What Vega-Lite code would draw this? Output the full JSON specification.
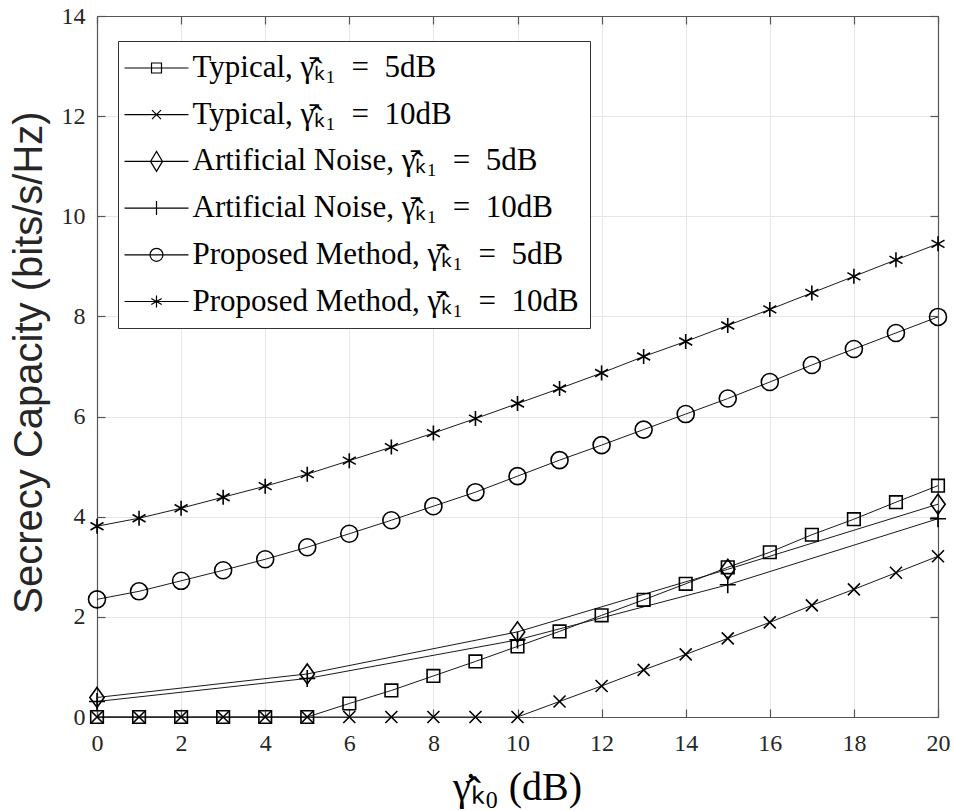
{
  "$schema": "https://vega.github.io/schema/vega-lite/v6.json",
  "width": 841,
  "height": 701,
  "autosize": "none",
  "padding": {"left": 97, "top": 16, "right": 16, "bottom": 94},
  "background": "white",
  "config": {"view": {"stroke": null}},
  "data": {"values": [
    {"x":0,"y":0,"s":"T5"},{"x":1,"y":0,"s":"T5"},{"x":2,"y":0,"s":"T5"},{"x":3,"y":0,"s":"T5"},{"x":4,"y":0,"s":"T5"},{"x":5,"y":0,"s":"T5"},{"x":6,"y":0.27,"s":"T5"},{"x":7,"y":0.53,"s":"T5"},{"x":8,"y":0.82,"s":"T5"},{"x":9,"y":1.11,"s":"T5"},{"x":10,"y":1.41,"s":"T5"},{"x":11,"y":1.71,"s":"T5"},{"x":12,"y":2.03,"s":"T5"},{"x":13,"y":2.34,"s":"T5"},{"x":14,"y":2.66,"s":"T5"},{"x":15,"y":2.99,"s":"T5"},{"x":16,"y":3.29,"s":"T5"},{"x":17,"y":3.64,"s":"T5"},{"x":18,"y":3.95,"s":"T5"},{"x":19,"y":4.29,"s":"T5"},{"x":20,"y":4.62,"s":"T5"},
    {"x":0,"y":0,"s":"T10"},{"x":1,"y":0,"s":"T10"},{"x":2,"y":0,"s":"T10"},{"x":3,"y":0,"s":"T10"},{"x":4,"y":0,"s":"T10"},{"x":5,"y":0,"s":"T10"},{"x":6,"y":0,"s":"T10"},{"x":7,"y":0,"s":"T10"},{"x":8,"y":0,"s":"T10"},{"x":9,"y":0,"s":"T10"},{"x":10,"y":0,"s":"T10"},{"x":11,"y":0.31,"s":"T10"},{"x":12,"y":0.62,"s":"T10"},{"x":13,"y":0.94,"s":"T10"},{"x":14,"y":1.25,"s":"T10"},{"x":15,"y":1.57,"s":"T10"},{"x":16,"y":1.89,"s":"T10"},{"x":17,"y":2.23,"s":"T10"},{"x":18,"y":2.55,"s":"T10"},{"x":19,"y":2.88,"s":"T10"},{"x":20,"y":3.21,"s":"T10"},
    {"x":0,"y":0.39,"s":"A5"},{"x":5,"y":0.86,"s":"A5"},{"x":10,"y":1.7,"s":"A5"},{"x":15,"y":2.95,"s":"A5"},{"x":20,"y":4.25,"s":"A5"},
    {"x":0,"y":0.31,"s":"A10"},{"x":5,"y":0.77,"s":"A10"},{"x":10,"y":1.54,"s":"A10"},{"x":15,"y":2.64,"s":"A10"},{"x":20,"y":3.96,"s":"A10"},
    {"x":0,"y":2.35,"s":"P5"},{"x":1,"y":2.51,"s":"P5"},{"x":2,"y":2.72,"s":"P5"},{"x":3,"y":2.93,"s":"P5"},{"x":4,"y":3.15,"s":"P5"},{"x":5,"y":3.39,"s":"P5"},{"x":6,"y":3.66,"s":"P5"},{"x":7,"y":3.93,"s":"P5"},{"x":8,"y":4.21,"s":"P5"},{"x":9,"y":4.49,"s":"P5"},{"x":10,"y":4.81,"s":"P5"},{"x":11,"y":5.13,"s":"P5"},{"x":12,"y":5.43,"s":"P5"},{"x":13,"y":5.74,"s":"P5"},{"x":14,"y":6.05,"s":"P5"},{"x":15,"y":6.36,"s":"P5"},{"x":16,"y":6.69,"s":"P5"},{"x":17,"y":7.03,"s":"P5"},{"x":18,"y":7.35,"s":"P5"},{"x":19,"y":7.67,"s":"P5"},{"x":20,"y":7.99,"s":"P5"},
    {"x":0,"y":3.81,"s":"P10"},{"x":1,"y":3.97,"s":"P10"},{"x":2,"y":4.17,"s":"P10"},{"x":3,"y":4.39,"s":"P10"},{"x":4,"y":4.61,"s":"P10"},{"x":5,"y":4.85,"s":"P10"},{"x":6,"y":5.12,"s":"P10"},{"x":7,"y":5.39,"s":"P10"},{"x":8,"y":5.67,"s":"P10"},{"x":9,"y":5.96,"s":"P10"},{"x":10,"y":6.26,"s":"P10"},{"x":11,"y":6.56,"s":"P10"},{"x":12,"y":6.87,"s":"P10"},{"x":13,"y":7.2,"s":"P10"},{"x":14,"y":7.5,"s":"P10"},{"x":15,"y":7.82,"s":"P10"},{"x":16,"y":8.14,"s":"P10"},{"x":17,"y":8.47,"s":"P10"},{"x":18,"y":8.8,"s":"P10"},{"x":19,"y":9.13,"s":"P10"},{"x":20,"y":9.45,"s":"P10"}
  ]},
  "resolve": {"scale": {"shape": "independent"}, "axis": {"x": "independent", "y": "independent"}},
  "layer": [
    {
      "mark": {"type": "line", "color": "#1a1a1a", "strokeWidth": 1},
      "encoding": {
        "x": {"field": "x", "type": "quantitative", "scale": {"domain": [0, 20], "nice": false},
          "axis": {"orient": "bottom", "values": [0,2,4,6,8,10,12,14,16,18,20], "title": "γ̇ₖ̂₀ (dB)",
            "grid": true, "gridColor": "#e6e6e6", "gridWidth": 1, "domainColor": "#555555", "domainWidth": 1.2,
            "tickColor": "#555555", "tickSize": -8, "tickWidth": 1.2, "labelFlush": false, "labelOverlap": false,
            "labelFont": "Liberation Sans Narrow", "labelFontSize": 24, "labelColor": "#262626", "labelPadding": 22,
            "titleFont": "Liberation Serif", "titleFontSize": 40, "titleFontWeight": "normal", "titleColor": "black",
            "titleX": 420, "titleY": 70, "titleBaseline": "middle", "titleAlign": "center"}},
        "y": {"field": "y", "type": "quantitative", "scale": {"domain": [0, 14], "nice": false},
          "axis": {"orient": "left", "values": [0,2,4,6,8,10,12,14], "title": "Secrecy Capacity (bits/s/Hz)",
            "grid": true, "gridColor": "#e6e6e6", "gridWidth": 1, "domainColor": "#555555", "domainWidth": 1.2,
            "tickColor": "#555555", "tickSize": -8, "tickWidth": 1.2, "labelFlush": false, "labelOverlap": false,
            "labelFont": "Liberation Sans Narrow", "labelFontSize": 24, "labelColor": "#262626", "labelPadding": 20,
            "titleFont": "Liberation Sans", "titleFontSize": 40, "titleFontWeight": "normal", "titleColor": "#262626",
            "titleX": -68, "titleY": 346, "titleAngle": 270, "titleBaseline": "middle", "titleAlign": "center"}},
        "detail": {"field": "s", "type": "nominal"}
      }
    },
    {
      "mark": {"type": "point", "filled": false, "color": "black", "strokeWidth": 1.6, "size": 400, "opacity": 1},
      "encoding": {
        "x": {"field": "x", "type": "quantitative", "axis": null},
        "y": {"field": "y", "type": "quantitative", "axis": null},
        "shape": {"field": "s", "type": "nominal", "legend": null,
          "scale": {"domain": ["T5","T10","A5","A10","P5","P10"],
            "range": [
              "M-0.63,-0.63H0.63V0.63H-0.63Z",
              "M-0.6,-0.6L0.6,0.6M-0.6,0.6L0.6,-0.6",
              "M0,-1L0.72,0L0,1L-0.72,0Z",
              "M-0.8,0H0.8M0,-0.85V0.85",
              "M0.85,0A0.85,0.85 0 1 1 -0.85,0A0.85,0.85 0 1 1 0.85,0Z",
              "M0,-0.75V0.75M-0.65,-0.375L0.65,0.375M-0.65,0.375L0.65,-0.375"
            ]}}
      }
    },
    {
      "mark": {"type": "point", "filled": false, "color": "black", "opacity": 0},
      "encoding": {
        "x": {"field": "x", "type": "quantitative",
          "axis": {"orient": "top", "values": [0,2,4,6,8,10,12,14,16,18,20], "labels": false, "title": null, "grid": false,
            "domainColor": "#555555", "domainWidth": 1.2, "tickColor": "#555555", "tickSize": -8, "tickWidth": 1.2}},
        "y": {"field": "y", "type": "quantitative",
          "axis": {"orient": "right", "values": [0,2,4,6,8,10,12,14], "labels": false, "title": null, "grid": false,
            "domainColor": "#555555", "domainWidth": 1.2, "tickColor": "#555555", "tickSize": -8, "tickWidth": 1.2}},
        "shape": {"field": "s", "type": "nominal",
          "scale": {"domain": ["T5","T10","A5","A10","P5","P10"],
            "range": [
              "M-2.133,0H2.133M-0.333,-0.333H0.333V0.333H-0.333Z",
              "M-2.133,0H2.133M-0.3,-0.3L0.3,0.3M-0.3,0.3L0.3,-0.3",
              "M-2.133,0H2.133M0,-0.667L0.4,0L0,0.667L-0.4,0Z",
              "M-2.133,0H2.133M0,-0.467V0.467",
              "M-2.133,0H2.133M0.433,0A0.433,0.433 0 1 1 -0.433,0A0.433,0.433 0 1 1 0.433,0",
              "M-2.133,0H2.133M0,-0.4V0.4M-0.346,-0.2L0.346,0.2M-0.346,0.2L0.346,-0.2"
            ]},
          "legend": {"orient": "none", "legendX": 21, "legendY": 25, "title": null,
            "labelExpr": "datum.label=='T5'?'Typical, γ̄ₖ̂₁\u2002=\u20025dB':datum.label=='T10'?'Typical, γ̄ₖ̂₁\u2002=\u200210dB':datum.label=='A5'?'Artificial Noise, γ̄ₖ̂₁\u2002=\u20025dB':datum.label=='A10'?'Artificial Noise, γ̄ₖ̂₁\u2002=\u200210dB':datum.label=='P5'?'Proposed Method, γ̄ₖ̂₁\u2002=\u20025dB':'Proposed Method, γ̄ₖ̂₁\u2002=\u200210dB'",
            "labelFont": "Liberation Serif", "labelFontSize": 31, "labelColor": "black", "labelLimit": 900,
            "symbolSize": 900, "symbolStrokeWidth": 1.2, "symbolOpacity": 1, "symbolStrokeColor": "black",
            "symbolFillColor": "transparent", "fillColor": "white", "strokeColor": "#333333",
            "padding": 11, "rowPadding": 15.7, "symbolOffset": 11.5, "labelOffset": 20}}
      }
    }
  ]
}
